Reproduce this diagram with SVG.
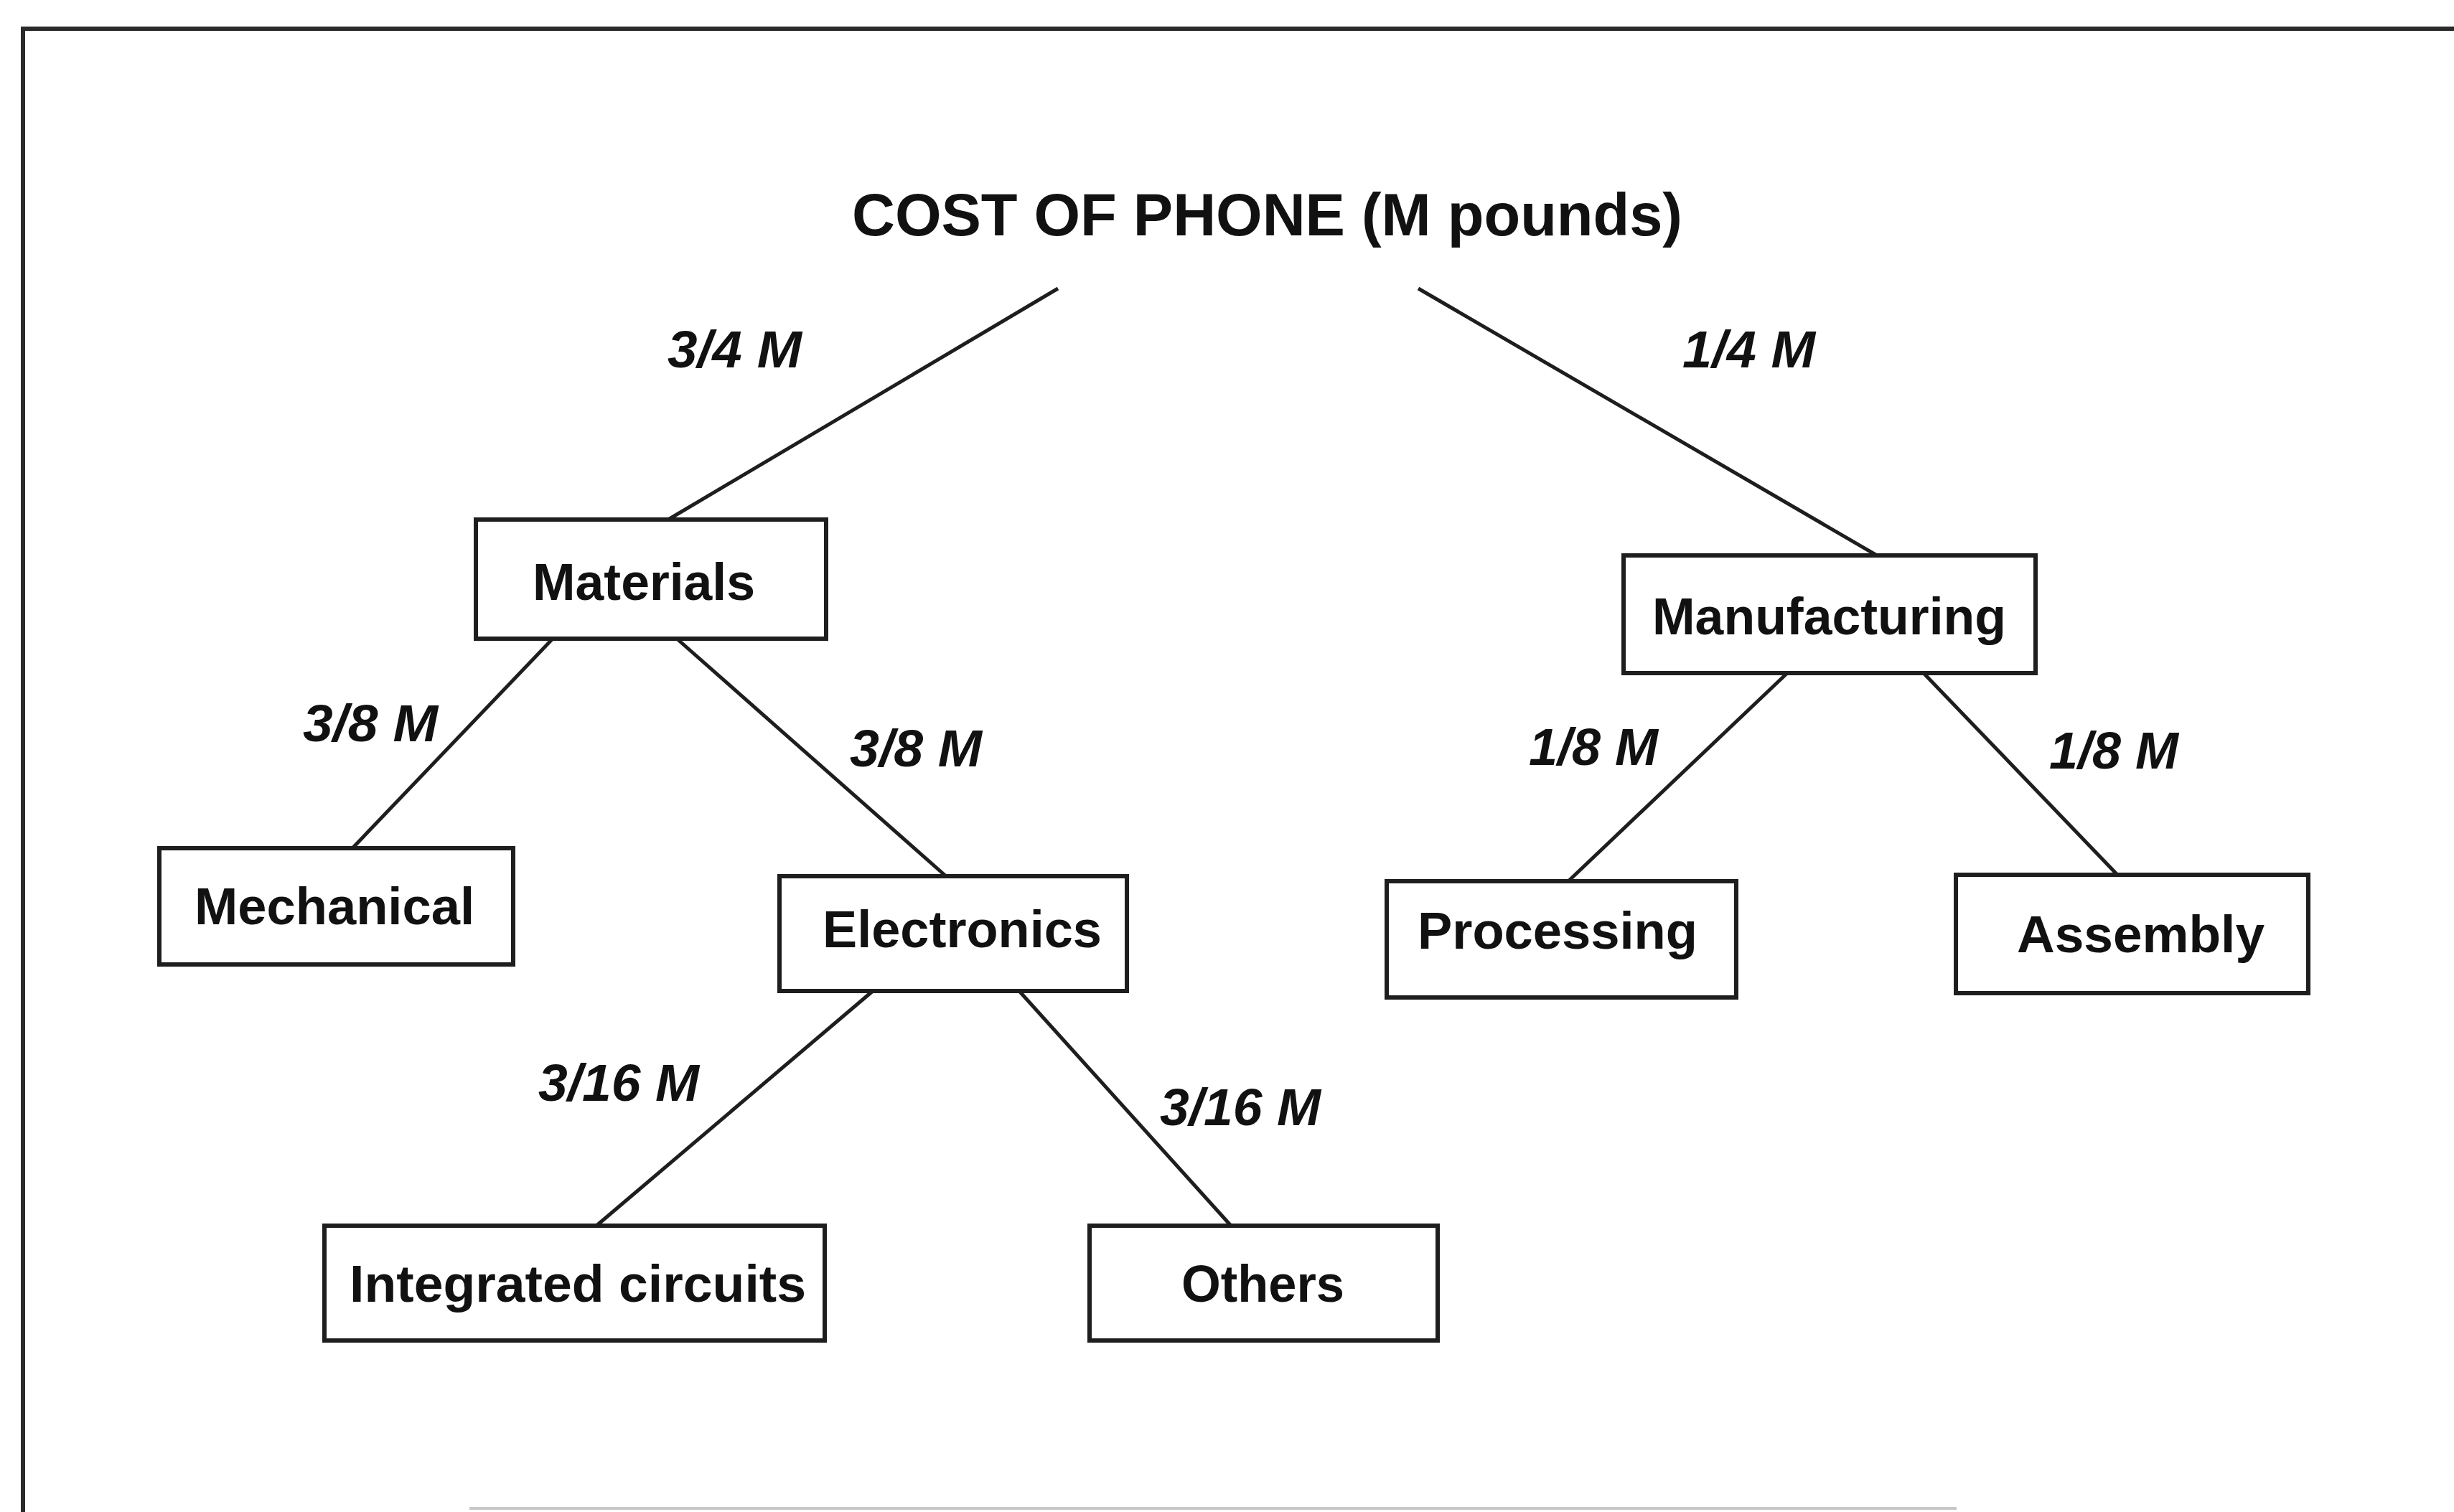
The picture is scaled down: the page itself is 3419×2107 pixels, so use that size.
<svg xmlns="http://www.w3.org/2000/svg" width="3419" height="2107" viewBox="0 0 3419 2107">
<style>
.box{fill:#fff;stroke:#1e1e1e;stroke-width:6}
.t{font-family:"Liberation Sans",Arial,sans-serif;font-weight:bold;font-size:72px;fill:#111}
.lbl{font-family:"Liberation Sans",Arial,sans-serif;font-weight:bold;font-style:italic;font-size:72px;fill:#111}
.title{font-family:"Liberation Sans",Arial,sans-serif;font-weight:bold;font-size:84px;fill:#111}
.c{stroke:#1e1e1e;stroke-width:5;fill:none}
</style>
<rect width="3419" height="2107" fill="#fff"/>
<path d="M32,2107 V40 H3419" fill="none" stroke="#2a2a2a" stroke-width="6"/>
<line x1="654" y1="2102" x2="2726" y2="2102" stroke="#c8c8c8" stroke-width="4"/>
<g id="connectors">
<line class="c" x1="1474" y1="402" x2="931" y2="724"/>
<line class="c" x1="1976" y1="402" x2="2615" y2="774"/>
<line class="c" x1="770" y1="890" x2="491" y2="1182"/>
<line class="c" x1="943" y1="890" x2="1318" y2="1221"/>
<line class="c" x1="2490" y1="938" x2="2185" y2="1228"/>
<line class="c" x1="2680" y1="938" x2="2950" y2="1219"/>
<line class="c" x1="1216" y1="1381" x2="831" y2="1708"/>
<line class="c" x1="1420" y1="1381" x2="1715" y2="1708"/>
<text class="lbl" x="930" y="512" textLength="187" lengthAdjust="spacingAndGlyphs">3/4 M</text>
<text class="lbl" x="2344" y="512" textLength="185" lengthAdjust="spacingAndGlyphs">1/4 M</text>
<text class="lbl" x="422" y="1033" textLength="188" lengthAdjust="spacingAndGlyphs">3/8 M</text>
<text class="lbl" x="1184" y="1068" textLength="184" lengthAdjust="spacingAndGlyphs">3/8 M</text>
<text class="lbl" x="2130" y="1066" textLength="180" lengthAdjust="spacingAndGlyphs">1/8 M</text>
<text class="lbl" x="2855" y="1071" textLength="180" lengthAdjust="spacingAndGlyphs">1/8 M</text>
<text class="lbl" x="750" y="1534" textLength="224" lengthAdjust="spacingAndGlyphs">3/16 M</text>
<text class="lbl" x="1616" y="1568" textLength="224" lengthAdjust="spacingAndGlyphs">3/16 M</text>
</g>
<g id="root">
<text class="title" x="1187" y="328" textLength="1157" lengthAdjust="spacingAndGlyphs">COST OF PHONE (M pounds)</text>
</g>
<g id="materials">
<rect class="box" x="663" y="724" width="488" height="166"/>
<text class="t" x="742" y="836" textLength="310" lengthAdjust="spacingAndGlyphs">Materials</text>
</g>
<g id="manufacturing">
<rect class="box" x="2262" y="774" width="574" height="164"/>
<text class="t" x="2302" y="884" textLength="493" lengthAdjust="spacingAndGlyphs">Manufacturing</text>
</g>
<g id="mechanical">
<rect class="box" x="222" y="1182" width="493" height="162"/>
<text class="t" x="271" y="1288" textLength="390" lengthAdjust="spacingAndGlyphs">Mechanical</text>
</g>
<g id="electronics">
<rect class="box" x="1086" y="1221" width="484" height="160"/>
<text class="t" x="1146" y="1320" textLength="389" lengthAdjust="spacingAndGlyphs">Electronics</text>
</g>
<g id="processing">
<rect class="box" x="1932" y="1228" width="487" height="162"/>
<text class="t" x="1975" y="1322" textLength="390" lengthAdjust="spacingAndGlyphs">Processing</text>
</g>
<g id="assembly">
<rect class="box" x="2725" y="1219" width="491" height="165"/>
<text class="t" x="2810" y="1327" textLength="345" lengthAdjust="spacingAndGlyphs">Assembly</text>
</g>
<g id="integrated-circuits">
<rect class="box" x="452" y="1708" width="697" height="160"/>
<text class="t" x="487" y="1814" textLength="636" lengthAdjust="spacingAndGlyphs">Integrated circuits</text>
</g>
<g id="others">
<rect class="box" x="1518" y="1708" width="485" height="160"/>
<text class="t" x="1646" y="1814" textLength="227" lengthAdjust="spacingAndGlyphs">Others</text>
</g>
</svg>
